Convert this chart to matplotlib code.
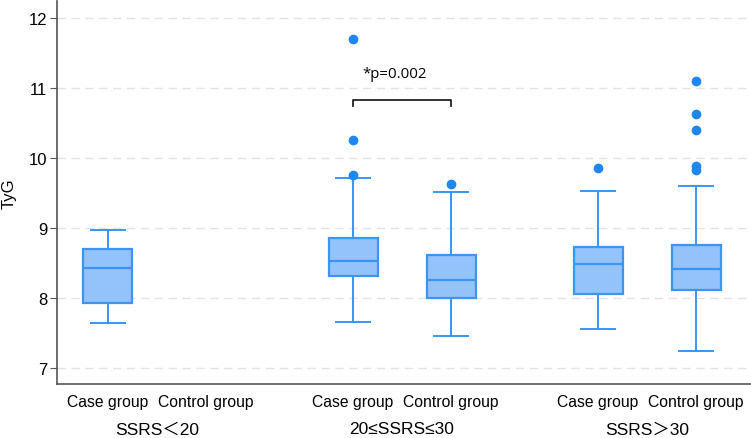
import matplotlib
matplotlib.use("Agg")
import matplotlib.pyplot as plt
from matplotlib.transforms import blended_transform_factory

plt.rcParams['font.family'] = ['Liberation Sans', 'Noto Sans CJK SC', 'DejaVu Sans']

# Data (box statistics)
groups = ["SSRS\uff1c20", "20\u2264SSRS\u226430", "SSRS\uff1e30"]
subgroups = ["Case group", "Control group"]
positions = [0, 1, 2.5, 3.5, 5, 6]
whislo = [7.64, None, 7.65, 7.46, 7.55, 7.24]
q1 = [7.92, None, 8.31, 7.99, 8.06, 8.11]
med = [8.43, None, 8.52, 8.25, 8.48, 8.41]
q3 = [8.70, None, 8.85, 8.61, 8.73, 8.76]
whishi = [8.97, None, 9.71, 9.51, 9.53, 9.60]
fliers = [[], [], [11.70, 10.26, 9.76], [9.62], [9.86], [11.10, 10.62, 10.39, 9.88, 9.83]]
p_text = "*p=0.002"

fill = "#93C3FA"
edge = "#3A95F5"
dot = "#1F87F5"

fig = plt.figure(figsize=(7.51, 4.39), dpi=100)
ax = fig.add_axes([57/751, 1-385/439, 1-57/751, 383/439])

stats = []
pos_used = []
for i, p in enumerate(positions):
    if med[i] is None:
        continue
    stats.append(dict(whislo=whislo[i], q1=q1[i], med=med[i], q3=q3[i],
                      whishi=whishi[i], fliers=fliers[i]))
    pos_used.append(p)

ax.bxp(stats, positions=pos_used, widths=0.5, patch_artist=True,
       boxprops=dict(facecolor=fill, edgecolor=edge, linewidth=1.6),
       medianprops=dict(color=edge, linewidth=1.6),
       whiskerprops=dict(color=edge, linewidth=1.4),
       capprops=dict(color=edge, linewidth=1.4),
       capwidths=0.34,
       flierprops=dict(marker='o', markerfacecolor=dot, markeredgecolor=dot, markersize=6))

ax.set_xlim(-0.52, 6.56)
ax.set_ylim(6.767, 12.24)
ax.set_yticks([7, 8, 9, 10, 11, 12])
ax.yaxis.grid(True, linestyle=(0, (6, 4)), color="#E3E3E3", linewidth=1)
ax.set_axisbelow(True)
ax.set_ylabel("TyG", fontsize=12, va='center')
ax.yaxis.set_label_coords(-0.069, 0.5)
ax.tick_params(axis='y', labelsize=12, length=5, pad=2, color="#555555")
ax.set_xticks(positions, [subgroups[i % 2] for i in range(6)])
ax.tick_params(axis='x', length=0, labelsize=11.3, pad=7)

for s in ['top', 'right']:
    ax.spines[s].set_visible(False)
for s in ['left', 'bottom']:
    ax.spines[s].set_color("#555555")
    ax.spines[s].set_linewidth(1.2)

trans = blended_transform_factory(ax.transData, ax.transAxes)
for g, name in enumerate(groups):
    cx = (positions[2*g] + positions[2*g+1]) / 2
    ax.text(cx, -0.117, name, transform=trans, ha='center', va='center', fontsize=12.5)

# significance bracket
x1, x2 = positions[2], positions[3]
ax.plot([x1, x1, x2, x2], [10.74, 10.83, 10.83, 10.74], color="#222222", linewidth=1.3)
ax.text((x1 + x2) / 2 - 0.08, 11.2, p_text, ha='center', va='center', fontsize=10.8,
        family=['Open Sans', 'DejaVu Sans'])

fig.savefig("out.png", dpi=100)
